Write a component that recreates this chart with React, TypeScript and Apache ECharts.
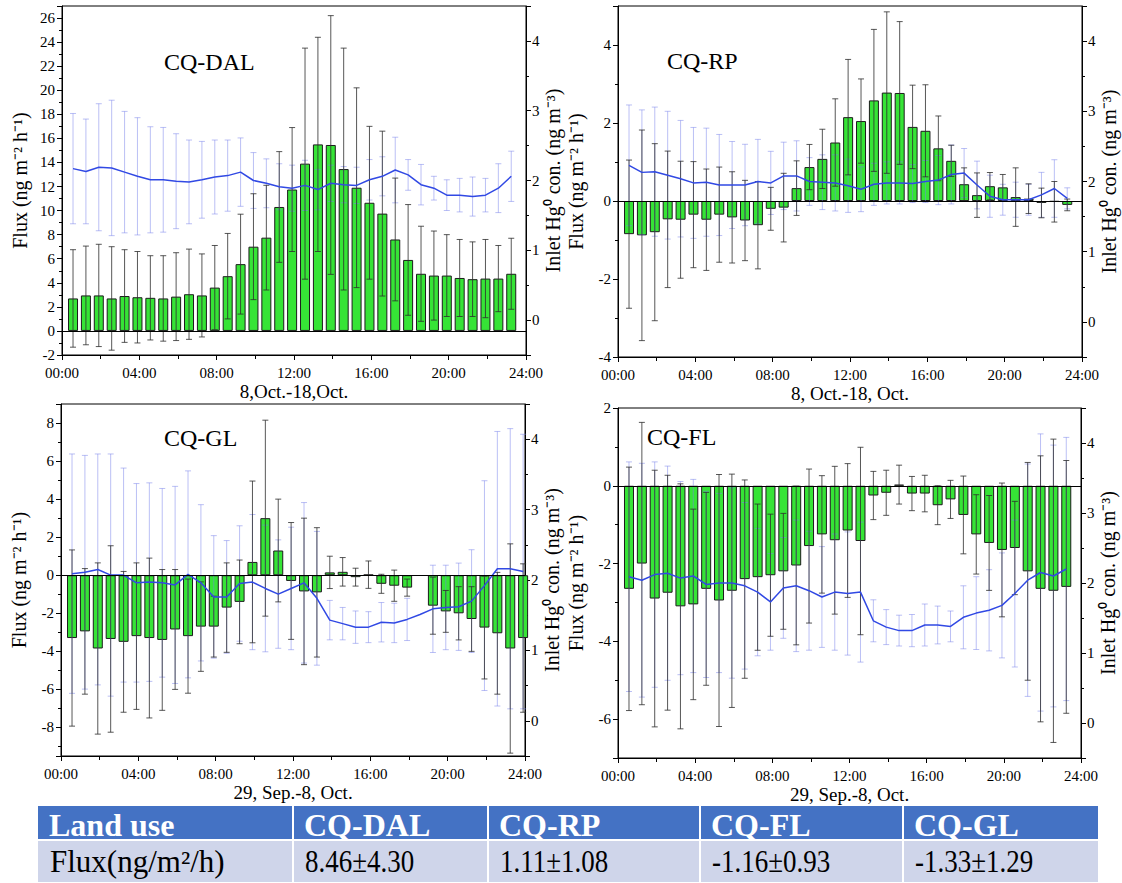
import React, { useEffect, useRef } from "react";
import * as echarts from "echarts";

// ---------- data ----------
// 40-minute slots across the day, in hours
const slotHours: number[] = Array.from({ length: 36 }, (_, i) => +(0.57 + (i * 2) / 3).toFixed(3));
const hourTicks = [0, 4, 8, 12, 16, 20, 24];

// CQ-DAL
const dalFlux = [2.7, 2.95, 2.95, 2.7, 2.9, 2.8, 2.75, 2.7, 2.85, 3.05, 2.95, 3.6, 4.55, 5.55, 7.0, 7.75, 10.3, 11.75, 13.9, 15.5, 15.45, 13.45, 11.9, 10.65, 9.75, 7.6, 5.9, 4.75, 4.6, 4.6, 4.4, 4.3, 4.35, 4.35, 4.75];
const dalFluxSd = [4.05, 4.1, 4.25, 4.3, 3.85, 3.8, 3.5, 3.55, 3.65, 3.75, 3.45, 3.5, 3.55, 4.15, 4.4, 4.35, 4.6, 5.15, 9.6, 8.9, 10.75, 10.05, 8.3, 6.35, 6.85, 5.1, 4.6, 3.95, 3.7, 3.4, 3.2, 3.1, 3.25, 2.75, 2.95];
const dalHg = [2.17, 2.13, 2.19, 2.18, 2.12, 2.06, 2.01, 2.01, 1.99, 1.98, 2.01, 2.05, 2.07, 2.12, 2.0, 1.96, 1.91, 1.89, 1.93, 1.87, 1.96, 1.94, 1.93, 2.01, 2.06, 2.15, 2.08, 1.94, 1.89, 1.79, 1.79, 1.77, 1.79, 1.89, 2.06];
const dalHgSd = [0.79, 0.75, 0.91, 0.97, 0.87, 0.84, 0.76, 0.75, 0.68, 0.6, 0.55, 0.53, 0.51, 0.49, 0.4, 0.35, 0.33, 0.33, 0.36, 0.29, 0.26, 0.26, 0.26, 0.29, 0.28, 0.47, 0.22, 0.29, 0.17, 0.22, 0.24, 0.28, 0.24, 0.35, 0.36];

// CQ-RP
const rpFlux = [-0.85, -0.88, -0.8, -0.47, -0.48, -0.35, -0.48, -0.35, -0.42, -0.5, -0.62, -0.2, -0.17, 0.33, 0.87, 1.08, 1.5, 2.15, 2.05, 2.58, 2.78, 2.77, 1.9, 1.8, 1.35, 1.03, 0.43, 0.15, 0.38, 0.35, 0.1, 0.06, -0.05, -0.02, -0.1];
const rpFluxSd = [1.9, 2.7, 2.27, 1.75, 1.5, 1.36, 1.3, 1.22, 1.17, 1.03, 1.12, 0.55, 0.88, 0.7, 0.58, 0.76, 1.12, 1.48, 1.08, 1.82, 2.07, 1.83, 1.07, 1.18, 0.83, 0.4, 0.42, 0.57, 0.35, 0.33, 0.75, 0.38, 0.38, 0.52, 0.15];
const rpHg = [2.23, 2.13, 2.14, 2.09, 2.04, 1.98, 1.99, 1.95, 1.95, 1.95, 2.0, 1.98, 2.08, 2.08, 2.0, 1.99, 1.98, 1.94, 1.89, 1.96, 1.98, 1.98, 1.97, 2.0, 2.02, 2.1, 2.12, 1.95, 1.79, 1.74, 1.74, 1.74, 1.81, 1.9, 1.76];
const rpHgSd = [0.86, 0.89, 0.92, 0.91, 0.83, 0.79, 0.77, 0.72, 0.62, 0.58, 0.6, 0.45, 0.48, 0.5, 0.34, 0.39, 0.4, 0.38, 0.32, 0.3, 0.3, 0.3, 0.27, 0.3, 0.35, 0.42, 0.35, 0.34, 0.3, 0.22, 0.25, 0.22, 0.32, 0.41, 0.15];

// CQ-GL
const glFlux = [-3.3, -2.95, -3.85, -3.35, -3.5, -3.2, -3.3, -3.4, -2.85, -3.2, -2.7, -2.7, -1.7, -1.4, 0.7, 3.0, 1.3, -0.3, -0.85, -0.9, 0.15, 0.18, -0.1, 0.03, -0.45, -0.55, -0.65, null, -1.6, -1.9, -2.0, -2.3, -2.75, -3.05, -3.85, -3.3];
const glFluxSd = [4.63, 3.3, 4.5, 4.9, 3.7, 3.85, 4.2, 3.7, 3.15, 3.0, 2.35, 1.6, 2.35, 2.2, 4.25, 5.15, 2.7, 3.07, 3.85, 3.4, 0.85, 0.75, 0.47, 0.72, 0.5, 0.82, 0.45, null, 1.5, 1.1, 1.4, 1.7, 2.7, 3.2, 5.5, 3.9];
const glHg = [2.09, 2.11, 2.15, 2.07, 2.07, 1.96, 1.97, 1.96, 1.93, 2.08, 1.96, 1.76, 1.76, 1.95, 1.97, 1.88, 1.8, 1.88, 1.96, 1.74, 1.43, 1.38, 1.33, 1.33, 1.4, 1.39, 1.44, 1.51, 1.59, 1.61, 1.62, 1.7, 1.92, 2.16, 2.16, 2.12];
const glHgSd = [1.7, 1.66, 1.64, 1.72, 1.52, 1.41, 1.41, 1.34, 1.4, 1.47, 1.11, 0.87, 0.8, 0.82, 0.96, 0.9, 0.77, 0.87, 1.14, 0.95, 0.28, 0.23, 0.23, 0.22, 0.28, 0.28, 0.3, null, 0.62, 0.6, 0.62, 0.73, 1.49, 1.95, 1.99, 1.95];

// CQ-FL
const flFlux = [-2.65, -2.0, -2.9, -2.75, -3.1, -3.05, -2.65, -2.95, -2.7, -2.4, -2.35, -2.3, -2.2, -2.05, -1.55, -1.25, -1.4, -1.15, -1.42, -0.25, -0.18, 0.03, -0.2, -0.2, -0.5, -0.35, -0.75, -1.25, -1.47, -1.65, -1.6, -2.2, -2.65, -2.7, -2.6];
const flFluxSd = [3.13, 3.63, 3.3, 3.02, 3.15, 2.45, 2.48, 3.24, 3.0, 2.55, 1.88, 1.57, 1.49, 2.04, 1.98, 1.51, 1.9, 1.72, 2.41, 0.62, 0.58, 0.5, 0.44, 0.47, 0.5, 0.49, 1.0, 1.02, 1.22, 1.72, 1.2, 2.8, 3.42, 3.9, 3.25];
const flHg = [2.09, 2.04, 2.12, 2.14, 2.07, 2.1, 1.98, 2.0, 2.0, 1.96, 1.87, 1.73, 1.93, 1.96, 1.89, 1.8, 1.87, 1.85, 1.87, 1.46, 1.37, 1.32, 1.32, 1.4, 1.4, 1.38, 1.51, 1.57, 1.61, 1.68, 1.85, 2.04, 2.15, 2.1, 2.2];
const flHgSd = [1.64, 1.67, 1.61, 1.53, 1.38, 1.38, 1.33, 1.28, 1.36, 1.19, 0.91, 0.69, 0.72, 0.94, 0.85, 0.72, 0.83, 0.88, 1.0, 0.3, 0.25, 0.22, 0.23, 0.3, 0.27, 0.22, 0.45, 0.52, 0.58, 0.75, 1.05, 1.66, 1.98, 1.87, 1.88];

// table
const tableHeader = ["Land use", "CQ-DAL", "CQ-RP", "CQ-FL", "CQ-GL"];
const tableRow = ["Flux(ng/m\u00B2/h)", "8.46\u00B14.30", "1.11\u00B11.08", "-1.16\u00B10.93", "-1.33\u00B11.29"];

// ---------- layout / style ----------
const FONT = "Liberation Serif";
const BAR_COLOR = "#36e436";
const LINE_COLOR = "#3149e4";
const BLUE_ERR = "rgba(120,130,235,0.5)";
const BLACK_ERR = "rgba(45,45,45,0.8)";

type Panel = {
  name: string;
  period: string;
  flux: (number | null)[];
  fluxSd: (number | null)[];
  hg: (number | null)[];
  hgSd: (number | null)[];
  fluxMin: number;
  fluxMax: number;
  box: { left: number; top: number; width: number; height: number };
  labelPos: [number, number];
};

const panels: Panel[] = [
  { name: "CQ-DAL", period: "8,Oct.-18,Oct.", flux: dalFlux, fluxSd: dalFluxSd, hg: dalHg, hgSd: dalHgSd, fluxMin: -2, fluxMax: 27, box: { left: 62, top: 6, width: 464, height: 349 }, labelPos: [164, 62] },
  { name: "CQ-RP", period: "8, Oct.-18, Oct.", flux: rpFlux, fluxSd: rpFluxSd, hg: rpHg, hgSd: rpHgSd, fluxMin: -4, fluxMax: 5, box: { left: 618, top: 6, width: 464, height: 351 }, labelPos: [667, 61] },
  { name: "CQ-GL", period: "29, Sep.-8, Oct.", flux: glFlux, fluxSd: glFluxSd, hg: glHg, hgSd: glHgSd, fluxMin: -9.5, fluxMax: 9, box: { left: 61, top: 404, width: 464, height: 352 }, labelPos: [164, 438] },
  { name: "CQ-FL", period: "29, Sep.-8, Oct.", flux: flFlux, fluxSd: flFluxSd, hg: flHg, hgSd: flHgSd, fluxMin: -7, fluxMax: 2, box: { left: 618, top: 408, width: 463, height: 350 }, labelPos: [647, 437] },
];

const tableCols = [38, 293, 488, 700, 903, 1098];
const tableRows = [806, 840, 882];

function errRender(color: string, cap: number) {
  return (params: any, api: any) => {
    const x = api.value(0);
    const lo = api.value(1);
    const hi = api.value(2);
    const a = api.coord([x, hi]);
    const b = api.coord([x, lo]);
    const style = { stroke: color, lineWidth: 1, fill: null };
    return {
      type: "group",
      children: [
        { type: "line", shape: { x1: a[0], y1: a[1], x2: b[0], y2: b[1] }, style },
        { type: "line", shape: { x1: a[0] - cap, y1: a[1], x2: a[0] + cap, y2: a[1] }, style },
        { type: "line", shape: { x1: b[0] - cap, y1: b[1], x2: b[0] + cap, y2: b[1] }, style },
      ],
    };
  };
}

function buildOption() {
  const black = "#000";
  const tickLabel = { fontFamily: FONT, fontSize: 15, color: black };
  const grid = panels.map((p) => ({ ...p.box, show: true, borderColor: black, borderWidth: 1, backgroundColor: "transparent" }));

  const xAxis = panels.map((p, i) => ({
    type: "value",
    gridIndex: i,
    min: hourTicks[0],
    max: hourTicks[hourTicks.length - 1],
    interval: 4,
    name: p.period,
    nameLocation: "middle",
    nameGap: 27,
    nameTextStyle: { fontFamily: FONT, fontSize: 19, color: black },
    axisLine: { onZero: false, lineStyle: { color: black, width: 1 } },
    axisTick: { show: true, length: 5, lineStyle: { color: black } },
    minorTick: { show: true, splitNumber: 2, length: 4, lineStyle: { color: black } },
    splitLine: { show: false },
    axisLabel: { ...tickLabel, margin: 10, formatter: (v: number) => `${String(v).padStart(2, "0")}:00` },
  }));

  const yAxis: any[] = [];
  panels.forEach((p, i) => {
    yAxis.push({
      type: "value",
      gridIndex: i,
      position: "left",
      min: p.fluxMin,
      max: p.fluxMax,
      minInterval: 2,
      maxInterval: 2,
      name: "Flux (ng m\u207B\u00B2 h\u207B\u00B9)",
      nameLocation: "middle",
      nameRotate: 90,
      nameGap: 32,
      nameTextStyle: { fontFamily: FONT, fontSize: 20, color: black },
      axisLine: { show: true, lineStyle: { color: black } },
      axisTick: { show: true, length: 5, lineStyle: { color: black } },
      minorTick: { show: true, splitNumber: 2, length: 3, lineStyle: { color: black } },
      splitLine: { show: false },
      axisLabel: { ...tickLabel, margin: 7, showMinLabel: p.fluxMin % 2 === 0, showMaxLabel: p.fluxMax % 2 === 0 },
    });
    yAxis.push({
      type: "value",
      gridIndex: i,
      position: "right",
      min: -0.5,
      max: 4.5,
      minInterval: 1,
      maxInterval: 1,
      name: "Inlet Hg\u2070 con. (ng m\u207B\u00B3)",
      nameLocation: "middle",
      nameRotate: 90,
      nameGap: 17,
      nameTextStyle: { fontFamily: FONT, fontSize: 20, color: black },
      axisLine: { show: true, lineStyle: { color: black } },
      axisTick: { show: true, length: 5, lineStyle: { color: black } },
      minorTick: { show: true, splitNumber: 2, length: 3, lineStyle: { color: black } },
      splitLine: { show: false },
      axisLabel: { ...tickLabel, margin: 6, showMinLabel: false, showMaxLabel: false },
    });
  });

  const series: any[] = [];
  panels.forEach((p, i) => {
    const barData: number[][] = [];
    const fluxErr: number[][] = [];
    p.flux.forEach((v, k) => {
      if (v == null) return;
      barData.push([slotHours[k], v]);
      const sd = p.fluxSd[k];
      if (sd != null) fluxErr.push([slotHours[k], v - sd, v + sd]);
    });
    const lineData: number[][] = [];
    const hgErr: number[][] = [];
    p.hg.forEach((v, k) => {
      if (v == null) return;
      lineData.push([slotHours[k], v]);
      const sd = p.hgSd[k];
      if (sd != null) hgErr.push([slotHours[k], v - sd, v + sd]);
    });
    series.push({
      type: "bar",
      name: `${p.name} flux`,
      xAxisIndex: i,
      yAxisIndex: 2 * i,
      data: barData,
      barWidth: 10,
      clip: true,
      z: 2,
      itemStyle: { color: BAR_COLOR, borderColor: "#1c1c1c", borderWidth: 1 },
      markLine: {
        silent: true,
        symbol: ["none", "none"],
        label: { show: false },
        lineStyle: { color: "#000", type: "solid", width: 1.2 },
        data: [{ yAxis: 0 }],
        z: 6,
      },
    });
    series.push({
      type: "custom",
      name: `${p.name} Hg sd`,
      xAxisIndex: i,
      yAxisIndex: 2 * i + 1,
      data: hgErr,
      z: 3,
      renderItem: errRender(BLUE_ERR, 3),
    });
    series.push({
      type: "custom",
      name: `${p.name} flux sd`,
      xAxisIndex: i,
      yAxisIndex: 2 * i,
      data: fluxErr,
      z: 4,
      renderItem: errRender(BLACK_ERR, 3),
    });
    series.push({
      type: "line",
      name: `${p.name} Hg`,
      xAxisIndex: i,
      yAxisIndex: 2 * i + 1,
      data: lineData,
      symbol: "none",
      z: 5,
      lineStyle: { color: LINE_COLOR, width: 1.5 },
    });
  });

  const graphic: any[] = [];
  panels.forEach((p) => {
    graphic.push({
      type: "text",
      x: p.labelPos[0],
      y: p.labelPos[1],
      z: 20,
      style: { text: p.name, fontFamily: FONT, fontSize: 24, fill: "#000", align: "left", verticalAlign: "middle" },
    });
  });
  // table
  const tLeft = tableCols[0];
  const tRight = tableCols[tableCols.length - 1];
  graphic.push({ type: "rect", shape: { x: tLeft, y: tableRows[0], width: tRight - tLeft, height: tableRows[1] - tableRows[0] }, style: { fill: "#4472c4" }, z: 10 });
  graphic.push({ type: "rect", shape: { x: tLeft, y: tableRows[1], width: tRight - tLeft, height: tableRows[2] - tableRows[1] }, style: { fill: "#cfd5ea" }, z: 10 });
  graphic.push({ type: "line", shape: { x1: tLeft, y1: tableRows[1], x2: tRight, y2: tableRows[1] }, style: { stroke: "#fff", lineWidth: 2 }, z: 11 });
  tableCols.slice(1, -1).forEach((cx) => {
    graphic.push({ type: "line", shape: { x1: cx, y1: tableRows[0], x2: cx, y2: tableRows[2] }, style: { stroke: "#fff", lineWidth: 2 }, z: 11 });
  });
  tableHeader.forEach((t, c) => {
    graphic.push({
      type: "text",
      x: tableCols[c] + 11,
      y: 825,
      z: 12,
      style: { text: t, fontFamily: FONT, fontSize: 32, fontWeight: "bold", fill: "#fff", align: "left", verticalAlign: "middle" },
    });
  });
  tableRow.forEach((t, c) => {
    graphic.push({
      type: "text",
      x: tableCols[c] + 12,
      y: 861,
      z: 12,
      scaleX: c === 0 ? 1 : 0.87,
      style: { text: t, fontFamily: FONT, fontSize: 31, fill: "#000", align: "left", verticalAlign: "middle" },
    });
  });

  return {
    animation: false,
    backgroundColor: "#fff",
    textStyle: { fontFamily: FONT },
    grid,
    xAxis,
    yAxis,
    series,
    graphic,
  };
}

export default function App() {
  const ref = useRef<HTMLDivElement>(null);
  useEffect(() => {
    if (!ref.current) return;
    const chart = echarts.init(ref.current, undefined, { renderer: "svg" });
    chart.setOption(buildOption() as any);
    return () => chart.dispose();
  }, []);
  return <div ref={ref} style={{ position: "fixed", left: 0, top: 0, width: 1122, height: 883, background: "#fff" }} />;
}
